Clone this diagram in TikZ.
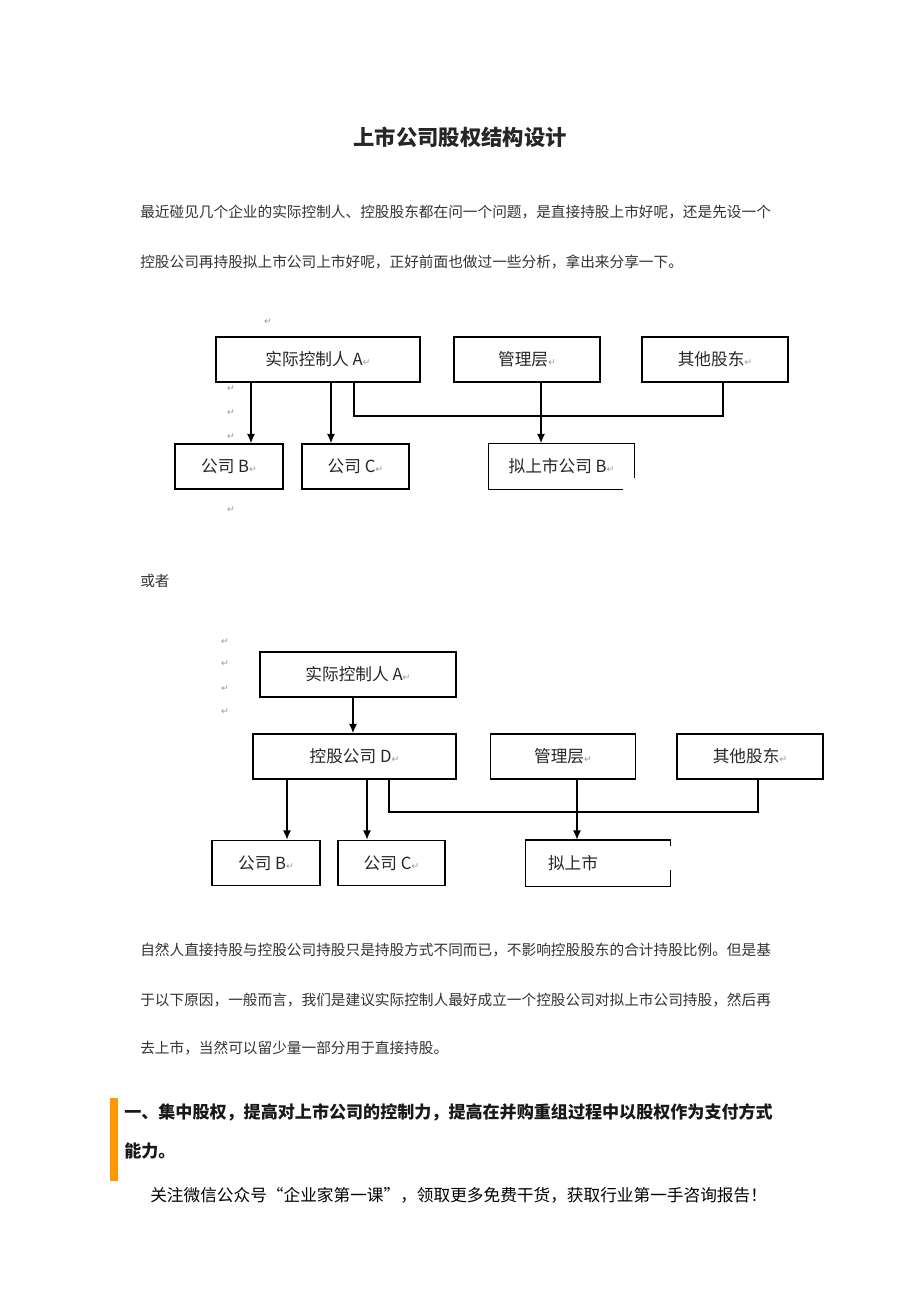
\documentclass[tikz,border=0pt]{standalone}
\usepackage{fontspec}
\setmainfont{Noto Sans CJK SC}
\newfontfamily\symfont{DejaVu Sans}
\usetikzlibrary{arrows.meta}
\definecolor{barorange}{RGB}{255,153,0}
\newcommand\enter{{\symfont\fontsize{7}{7}\selectfont\textcolor{black!40}{↵}}}

\begin{document}
\begin{tikzpicture}[x=0.75pt,y=-0.75pt,
	box/.style={draw,line width=1.1pt,inner sep=0pt,minimum height=33.75pt,font=\fontsize{12.5}{14}\selectfont,text=black!85},
	openbox/.style={box,draw=none},
	arr/.style={line width=1.1pt,-{Latex[length=7pt,width=6pt]}},
	link/.style={line width=1.1pt},
	retmark/.style={inner sep=0pt},
	txtline/.style={anchor=west,inner sep=0pt,font=\fontsize{11}{13}\selectfont,text=black!80}]
	\path [use as bounding box, fill=white] (0,0) rectangle (920,1302);
	\node[inner sep=0pt,font=\fontsize{16}{18}\selectfont\bfseries,text=black!85] (title) at (460,137) {上市公司股权结构设计};
	\node[txtline] (p1) at (140,212) {最近碰见几个企业的实际控制人、控股股东都在问一个问题，是直接持股上市好呢，还是先设一个};
	\node[txtline] (p2) at (140,262) {控股公司再持股拟上市公司上市好呢，正好前面也做过一些分析，拿出来分享一下。};

	\node[box,minimum width=153pt] (ctrlA) at (318,359.5) {实际控制人 A\enter};
	\node[box,minimum width=109.5pt] (mgmtA) at (527,359.5) {管理层\enter};
	\node[box,minimum width=109.5pt] (otherA) at (715,359.5) {其他股东\enter};
	\node[box,minimum width=81pt] (coB) at (229,466.5) {公司 B\enter};
	\node[box,minimum width=80.25pt] (coC) at (355.5,466.5) {公司 C\enter};
	\node[openbox,minimum width=108.75pt] (ipoB) at (561.5,466.5) {拟上市公司 B\enter};
	\draw[link] (ipoB.south -| 623,0) -- (ipoB.south west) -- (ipoB.north west) -- (ipoB.north east) -- (ipoB.east |- 0,478);
	\draw[arr] (ctrlA.south -| 251,0) -- (coB.north -| 251,0);
	\draw[arr] (ctrlA.south -| 331,0) -- (coC.north -| 331,0);
	\draw[link] (ctrlA.south -| 354,0) |- (723,416) -- (otherA.south -| 723,0);
	\draw[arr] (mgmtA.south -| 541,0) -- (ipoB.north -| 541,0);
	\node[retmark] (r0) at (268,322) {\enter};
	\foreach \y [count=\i] in {389,413,437,510}
		\node[retmark] (r\i) at (231,\y) {\enter};

	\node[txtline] (or) at (140,581) {或者};

	\node[box,minimum width=147pt] (ctrlD) at (358,674.5) {实际控制人 A\enter};
	\node[box,minimum width=152.25pt] (holdD) at (354.5,756.5) {控股公司 D\enter};
	\node[box,minimum width=108.75pt] (mgmtD) at (563,756.5) {管理层\enter};
	\node[box,minimum width=109.5pt] (otherD) at (750,756.5) {其他股东\enter};
	\node[box,minimum width=81pt] (coB2) at (266,863) {公司 B\enter};
	\node[box,minimum width=80.25pt] (coC2) at (391.5,863) {公司 C\enter};
	\node[openbox,minimum width=108pt,text width=75pt,align=left] (ipoD) at (598,863) {拟上市};
	\draw[link] (ipoD.east |- 0,846) -- (ipoD.north east) -- (ipoD.north west) -- (ipoD.south west) -- (ipoD.south east) -- (ipoD.east |- 0,870);
	\draw[arr] (ctrlD.south -| 353,0) -- (holdD.north -| 353,0);
	\draw[arr] (holdD.south -| 287,0) -- (coB2.north -| 287,0);
	\draw[arr] (holdD.south -| 367,0) -- (coC2.north -| 367,0);
	\draw[link] (holdD.south -| 389,0) |- (758,812) -- (otherD.south -| 758,0);
	\draw[arr] (mgmtD.south -| 577,0) -- (ipoD.north -| 577,0);
	\foreach \y [count=\i] in {642,664,689,712}
		\node[retmark] (s\i) at (225,\y) {\enter};

	\node[txtline] (q1) at (140,950) {自然人直接持股与控股公司持股只是持股方式不同而已，不影响控股股东的合计持股比例。但是基};
	\node[txtline] (q2) at (140,1000) {于以下原因，一般而言，我们是建议实际控制人最好成立一个控股公司对拟上市公司持股，然后再};
	\node[txtline] (q3) at (140,1048) {去上市，当然可以留少量一部分用于直接持股。};

	\fill[barorange] (110,1098) rectangle (118,1181);
	\node[txtline,font=\fontsize{12.8}{15}\selectfont\bfseries,text=black!90] (h1) at (124,1112) {一、集中股权，提高对上市公司的控制力，提高在并购重组过程中以股权作为支付方式};
	\node[txtline,font=\fontsize{12.8}{15}\selectfont\bfseries,text=black!90] (h2) at (124,1151) {能力。};
	\node[txtline,font=\fontsize{12.5}{15}\selectfont,text=black] (foot) at (150,1195) {关注微信公众号“企业家第一课”，领取更多免费干货，获取行业第一手咨询报告！};
\end{tikzpicture}
\end{document}
